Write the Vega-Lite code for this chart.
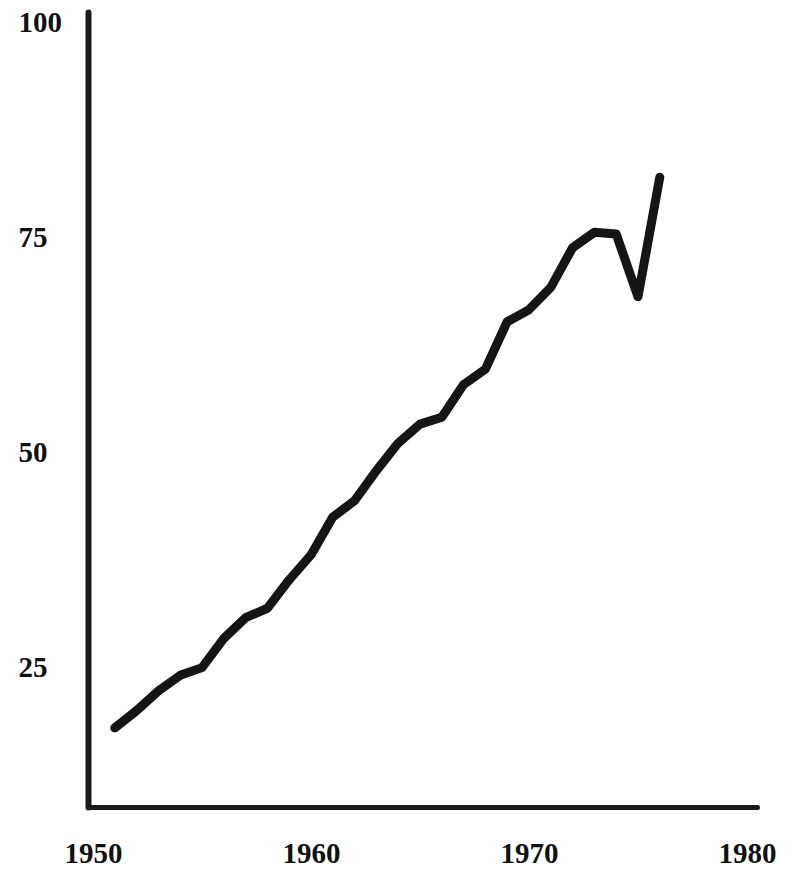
{
  "$schema": "https://vega.github.io/schema/vega-lite/v6.json",
  "autosize": {"type": "none"},
  "width": 669,
  "height": 795,
  "padding": {"left": 88, "top": 12, "right": 41, "bottom": 64},
  "background": "white",
  "config": {"view": {"stroke": null}},
  "data": {"values": [
    {"year": 1951, "value": 18.0},
    {"year": 1952, "value": 20.0},
    {"year": 1953, "value": 22.3},
    {"year": 1954, "value": 24.1},
    {"year": 1955, "value": 25.0},
    {"year": 1956, "value": 28.4},
    {"year": 1957, "value": 30.8},
    {"year": 1958, "value": 31.9},
    {"year": 1959, "value": 35.2},
    {"year": 1960, "value": 38.1},
    {"year": 1961, "value": 42.5},
    {"year": 1962, "value": 44.4},
    {"year": 1963, "value": 47.9},
    {"year": 1964, "value": 51.1},
    {"year": 1965, "value": 53.3},
    {"year": 1966, "value": 54.1},
    {"year": 1967, "value": 57.9},
    {"year": 1968, "value": 59.7},
    {"year": 1969, "value": 65.2},
    {"year": 1970, "value": 66.6},
    {"year": 1971, "value": 69.2},
    {"year": 1972, "value": 73.8},
    {"year": 1973, "value": 75.6},
    {"year": 1974, "value": 75.4},
    {"year": 1975, "value": 68.1},
    {"year": 1976, "value": 82.0}
  ]},
  "mark": {"type": "line", "color": "#151515", "strokeWidth": 9, "strokeCap": "round", "strokeJoin": "round"},
  "encoding": {
    "x": {
      "field": "year", "type": "quantitative",
      "scale": {"domain": [1949.77, 1980.46], "nice": false, "zero": false},
      "axis": {
        "title": null, "values": [1950, 1960, 1970, 1980], "format": "d",
        "grid": false, "ticks": false, "tickSize": 0,
        "domainColor": "#1a1a1a", "domainWidth": 5, "domainCap": "round",
        "labelFont": "Liberation Serif", "labelFontWeight": "bold", "labelFontSize": 29,
        "labelColor": "#111", "labelPadding": 32, "labelBaseline": "top", "labelFlush": false
      }
    },
    "y": {
      "field": "value", "type": "quantitative",
      "scale": {"domain": [8.8, 101.2], "nice": false, "zero": false},
      "axis": {
        "title": null, "values": [25, 50, 75, 100],
        "grid": false, "ticks": false, "tickSize": 0,
        "domainColor": "#1a1a1a", "domainWidth": 6, "domainCap": "round",
        "labelFont": "Liberation Serif", "labelFontWeight": "bold", "labelFontSize": 29,
        "labelColor": "#111", "labelPadding": 70, "labelAlign": "left", "labelBaseline": "middle", "labelFlush": false
      }
    }
  }
}
